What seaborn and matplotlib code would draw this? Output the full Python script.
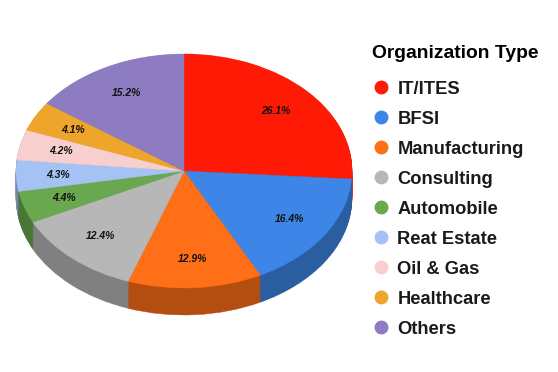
import numpy as np
import matplotlib
matplotlib.use('Agg')
import matplotlib.pyplot as plt
from matplotlib.lines import Line2D
import seaborn as sns

categories = ['IT/ITES', 'BFSI', 'Manufacturing', 'Consulting', 'Automobile',
              'Reat Estate', 'Oil & Gas', 'Healthcare', 'Others']
shares = [26.1, 16.4, 12.9, 12.4, 4.4, 4.3, 4.2, 4.1, 15.2]
colors = ['#ff1a05', '#3d85e6', '#ff6f17', '#b7b7b7', '#6aa84f',
          '#a4c2f4', '#f8cfcf', '#eea52c', '#8e7cc3']

sns.set_theme(style='white')
plt.rcParams['font.family'] = ['Liberation Sans', 'DejaVu Sans']

W, H = 558, 372
fig = plt.figure(figsize=(W / 100, H / 100), dpi=100)

# top ellipse is 16..352 x 54..288 px, the wall adds 27 px underneath
profundidade = 27 / 117
ax = fig.add_axes([16 / W, (H - 315) / H, 336 / W, 261 / H])

palette = sns.color_palette(colors)
escuras = [tuple(np.array(c) * 0.7) for c in palette]


def fechar_fatias(fatias, cores):
    # edge in the slice colour, so no white seams between slices
    for fatia, cor in zip(fatias, cores):
        fatia.set_edgecolor(cor)
        fatia.set_linewidth(0.3)
        fatia.set_clip_on(False)


# side wall: same pie stacked downwards in the darker colours
for d in np.linspace(profundidade, 0.005, 30):
    parede = ax.pie(shares, colors=escuras, startangle=90, counterclock=False, center=(0, -d))
    fechar_fatias(parede[0], escuras)

total = sum(shares)
wedges, _, autotexts = ax.pie(
    shares, colors=palette, startangle=90, counterclock=False,
    autopct=lambda p: f'{p * total / 100:.1f}%', pctdistance=0.75,
    textprops={'fontsize': 7.5, 'fontweight': 'bold', 'fontstyle': 'italic', 'color': '#111111'})
fechar_fatias(wedges, palette)

ax.set_aspect('auto')
ax.set_xlim(-1, 1)
ax.set_ylim(-1 - profundidade, 1)

handles = [Line2D([], [], linestyle='none', marker='o', markersize=10,
                  markerfacecolor=c, markeredgecolor='none') for c in palette]
leg = fig.legend(handles, categories, title='Organization Type', loc='upper left',
                 bbox_to_anchor=(372.5 / W, 1 - 45 / H), frameon=False, fontsize=13.2,
                 labelspacing=0.71, handlelength=0.9, handletextpad=0.46,
                 borderpad=0, borderaxespad=0, alignment='left', labelcolor='#1a1a1a',
                 title_fontproperties={'family': 'Liberation Sans', 'weight': 'bold', 'size': 13.9})
leg.get_title().set_color('#000000')
for t in leg.get_texts():
    t.set_fontweight('bold')
# more room between the title and the first row
leg._legend_box.sep = 13.5

fig.savefig('out.png', dpi=100, facecolor='white')
